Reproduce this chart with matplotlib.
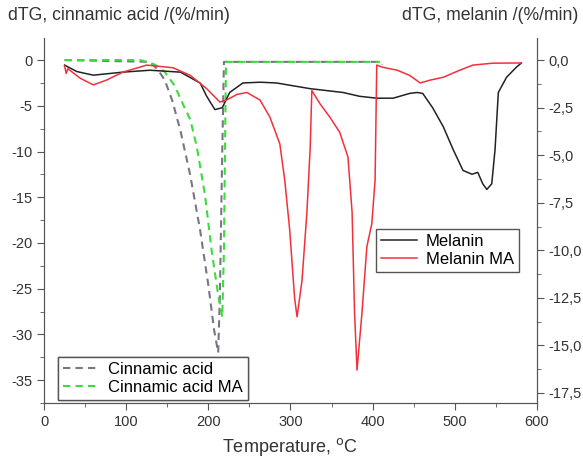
import numpy as np
import matplotlib.pyplot as plt
from matplotlib.ticker import MultipleLocator, FuncFormatter

plt.rcParams['font.family'] = ['Liberation Sans', 'DejaVu Sans']
plt.rcParams['axes.unicode_minus'] = False

# cinnamic acid, left axis (%/min)
ca_T = [25, 129, 139, 147, 156, 166, 178, 190, 200, 207, 212, 214, 217, 219, 300, 409, 412]
ca_y = [0, -0.2, -1.1, -2.2, -4.4, -7.7, -12.6, -18.6, -24.6, -29.5, -32.0, -26, -9.8, -0.2, -0.2, -0.2, -0.5]

cama_T = [25, 117, 135, 147, 159, 169, 178, 186, 196, 204, 212, 217, 219, 221.5, 300, 409]
cama_y = [0, 0, -0.5, -1.3, -2.8, -4.8, -6.5, -9.5, -14.8, -20.8, -25.7, -28.1, -20.8, -0.2, -0.2, -0.2]

# melanin, right axis (%/min)
mel_T = [25, 40, 60, 96, 129, 166, 190, 198, 208, 217, 226, 242, 263, 283, 324, 364, 384,
         405, 425, 445, 454, 461, 473, 486, 498, 510, 521, 528, 534, 539, 545, 549, 553,
         563, 575, 581]
mel_y = [-0.26, -0.6, -0.79, -0.63, -0.53, -0.63, -1.2, -1.9, -2.6, -2.5, -1.7, -1.2, -1.16,
         -1.2, -1.5, -1.7, -1.9, -2.0, -2.0, -1.75, -1.7, -1.75, -2.5, -3.5, -4.7, -5.8,
         -6.0, -5.9, -6.5, -6.8, -6.5, -4.7, -1.7, -0.9, -0.37, -0.15]

melma_T = [25, 27, 29, 44, 60, 76, 96, 125, 157, 178, 198, 214, 222, 235, 247, 263, 275, 287,
           293, 299, 305, 308, 314, 320, 324, 326, 336, 348, 360, 370, 375, 378, 381, 387,
           393, 399, 403, 405, 412, 430, 445, 458, 470, 486, 506, 522, 546, 571, 581]
melma_y = [-0.3, -0.7, -0.45, -0.95, -1.3, -1.05, -0.63, -0.26, -0.4, -0.8, -1.5, -2.2, -2.1,
           -1.8, -1.7, -2.1, -3.0, -4.4, -6.3, -8.9, -12.5, -13.5, -11.6, -8.0, -4.6, -1.6,
           -2.3, -3.0, -3.8, -5.1, -8.0, -13.3, -16.3, -13.3, -9.8, -8.6, -6.3, -0.26, -0.37,
           -0.53, -0.8, -1.2, -1.05, -0.9, -0.53, -0.26, -0.16, -0.15, -0.15]

fig = plt.figure(figsize=(5.83, 4.59), dpi=100)
ax = fig.add_axes([0.0755, 0.122, 0.8455, 0.795])
ax2 = ax.twinx()

l1, = ax.plot(ca_T, ca_y, color='#7a7585', ls=(0, (3.5, 2.5)), lw=1.5, label='Cinnamic acid')
l2, = ax.plot(cama_T, cama_y, color='#3ddc3d', ls=(0, (3.5, 2.5)), lw=1.5, label='Cinnamic acid MA')
l3, = ax2.plot(mel_T, mel_y, color='#222222', lw=1.1, label='Melanin')
l4, = ax2.plot(melma_T, melma_y, color='#f2303c', lw=1.1, label='Melanin MA')

ax.set_xlim(0, 600)
ax.set_ylim(-37.5, 2.4)
ax2.set_ylim(-18.03, 1.16)

ax.xaxis.set_major_locator(MultipleLocator(100))
ax.xaxis.set_minor_locator(MultipleLocator(50))
ax.yaxis.set_major_locator(MultipleLocator(5))
ax.yaxis.set_minor_locator(MultipleLocator(2.5))
ax2.yaxis.set_major_locator(MultipleLocator(2.5))
ax2.yaxis.set_minor_locator(MultipleLocator(1.25))
ax2.yaxis.set_major_formatter(FuncFormatter(lambda v, p: ('%.1f' % v).replace('.', ',')))

for a in (ax, ax2):
    a.spines['top'].set_visible(False)
    for s in a.spines.values():
        s.set_color('#555555')
    a.tick_params(which='major', length=5, color='#555555', labelsize=10.5, labelcolor='#333333')
    a.tick_params(which='minor', length=3, color='#555555')

fig.text(0.014, 0.967, 'dTG, cinnamic acid /(%/min)', fontsize=12.7, color='#333333',
         ha='left', va='center')
fig.text(0.992, 0.967, 'dTG, melanin /(%/min)', fontsize=12.7, color='#333333',
         ha='right', va='center')
fig.text(0.497, 0.026, 'Temperature, $^{\\mathrm{o}}$C', fontsize=13, color='#333333',
         ha='center', va='center')

leg_kw = dict(loc='lower left', borderaxespad=0, fancybox=False, edgecolor='#555555',
              fontsize=12, handlelength=2.2, handletextpad=0.5, labelspacing=0.2,
              borderpad=0.3, framealpha=1)
leg1 = ax.legend(handles=[l1, l2], bbox_to_anchor=(0.028, 0.008), **leg_kw)
leg1.get_frame().set_linewidth(1.0)
ax.add_artist(leg1)
leg2 = ax2.legend(handles=[l3, l4], bbox_to_anchor=(0.673, 0.359), **leg_kw)
leg2.get_frame().set_linewidth(1.0)

fig.savefig('out.png', dpi=100)
